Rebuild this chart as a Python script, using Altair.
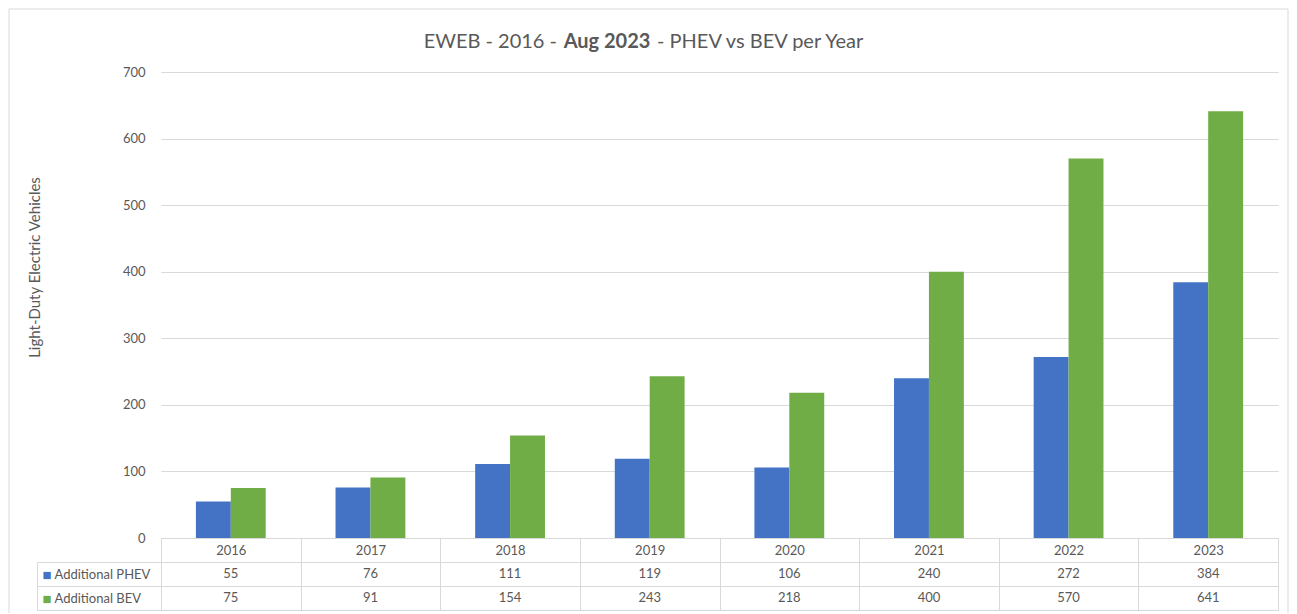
import altair as alt
import pandas as pd

years = ["2016", "2017", "2018", "2019", "2020", "2021", "2022", "2023"]
phev = [55, 76, 111, 119, 106, 240, 272, 384]
bev = [75, 91, 154, 243, 218, 400, 570, 641]
series_names = ["Additional PHEV", "Additional BEV"]
colors = ["#4472C4", "#70AD47"]
title_parts = ["EWEB - 2016 -", "Aug 2023", "- PHEV vs BEV per Year"]
y_title = "Light-Duty Electric Vehicles"
y_ticks = [0, 100, 200, 300, 400, 500, 600, 700]

rows = []
for i, yr in enumerate(years):
    rows.append({"year": yr, "series": series_names[0], "value": phev[i]})
    rows.append({"year": yr, "series": series_names[1], "value": bev[i]})
df = pd.DataFrame(rows)

GRID = "#d9d9d9"
TXT = "#595959"
FONT = "Lato"
W = 1117
H = 466
ROW = 24

x_top = alt.X(
    "year:N", sort=years,
    scale=alt.Scale(paddingInner=0, paddingOuter=0),
    axis=alt.Axis(title=None, labelAngle=0, domain=True, domainColor=GRID,
                  ticks=True, tickBand="extent", tickSize=ROW, tickColor=GRID,
                  labelPadding=-12, labelBaseline="middle", labelFontSize=13,
                  labelColor=TXT, labelFont=FONT),
)

bars = alt.Chart(df).mark_bar().encode(
    x=x_top,
    xOffset=alt.XOffset("series:N", sort=series_names,
                        scale=alt.Scale(paddingInner=0, paddingOuter=1)),
    y=alt.Y("value:Q", scale=alt.Scale(domain=[0, 700], nice=False),
            axis=alt.Axis(values=y_ticks, title=y_title, domain=False, ticks=False,
                          grid=True, gridColor=GRID, labelPadding=16, labelFontSize=13,
                          labelColor=TXT, labelFont=FONT, titleFont=FONT, titleFontSize=15,
                          titleFontWeight="normal", titleColor=TXT, titleX=-127, titleY=195,
                          titleAlign="center", titleBaseline="middle", titleAngle=270)),
    color=alt.Color("series:N", sort=series_names,
                    scale=alt.Scale(domain=series_names, range=colors), legend=None),
)

one = pd.DataFrame({"k": [0]})


def title_piece(text, xpos, align, weight):
    return alt.Chart(one).mark_text(
        text=text, align=align, baseline="alphabetic", font=FONT, fontSize=20,
        fontWeight=weight, color=TXT,
    ).encode(x=alt.value(xpos), y=alt.value(-24))


t1 = title_piece(title_parts[0], 396, "right", "normal")
t2 = title_piece(title_parts[1], 446, "center", "bold")
t3 = title_piece(title_parts[2], 496, "left", "normal")

# light grey frame around the chart area (decoration; bottom edge lies below the window)
frame_style = dict(color=GRID, strokeWidth=1)
frame_left = alt.Chart(one).mark_rule(**frame_style).encode(
    x=alt.value(-152), y=alt.value(-63), y2=alt.value(541))
frame_top = alt.Chart(one).mark_rule(**frame_style).encode(
    x=alt.value(-152), x2=alt.value(1127), y=alt.value(-63))
frame_right = alt.Chart(one).mark_rule(**frame_style).encode(
    x=alt.value(1127), y=alt.value(-63), y2=alt.value(541))

top = alt.layer(frame_left, frame_top, frame_right, bars, t1, t2, t3).properties(
    width=W, height=H, view=alt.ViewBackground(stroke="transparent")
)

x_bot = alt.X(
    "year:N", sort=years,
    scale=alt.Scale(paddingInner=0, paddingOuter=0),
    axis=alt.Axis(orient="top", title=None, labels=False, ticks=False, domain=False,
                  grid=True, gridColor=GRID, tickBand="extent"),
)

txt = alt.Chart(df).mark_text(font=FONT, fontSize=13, color=TXT, baseline="middle").encode(
    x=x_bot,
    y=alt.Y("series:N", sort=series_names,
            scale=alt.Scale(domain=series_names, paddingInner=0, paddingOuter=0),
            axis=alt.Axis(orient="left", title=None, domain=False, ticks=True, tickSize=124,
                          tickColor=GRID, tickBand="extent", grid=True, gridColor=GRID,
                          labelPadding=-17, labelAlign="left", labelBaseline="middle",
                          labelFontSize=13, labelColor=TXT, labelFont=FONT)),
    text="value:Q",
)

keys = alt.Chart(df).mark_point(opacity=0).encode(
    x=x_bot,
    y=alt.Y("series:N", sort=series_names,
            scale=alt.Scale(domain=series_names, paddingInner=0, paddingOuter=0),
            axis=alt.Axis(orient="left", offset=124, title=None, domain=True, domainColor=GRID,
                          ticks=False, grid=False, labelExpr="'\u25a0'", labelAlign="left",
                          labelPadding=-5, labelBaseline="middle", labelFontSize=15,
                          labelColor={"condition": {"test": f"datum.value == '{series_names[0]}'",
                                                    "value": colors[0]},
                                      "value": colors[1]})),
)

bottom = alt.layer(txt, keys).resolve_scale(y="independent").properties(
    width=W, height=2 * ROW, view=alt.ViewBackground(stroke=GRID)
)

chart = alt.vconcat(top, bottom, spacing=ROW, bounds="flush").properties(
    padding={"left": 0, "top": 0, "right": 0, "bottom": 0}
).configure(font=FONT)

chart.save("out.html", embed_options={"renderer": "svg", "actions": False})
